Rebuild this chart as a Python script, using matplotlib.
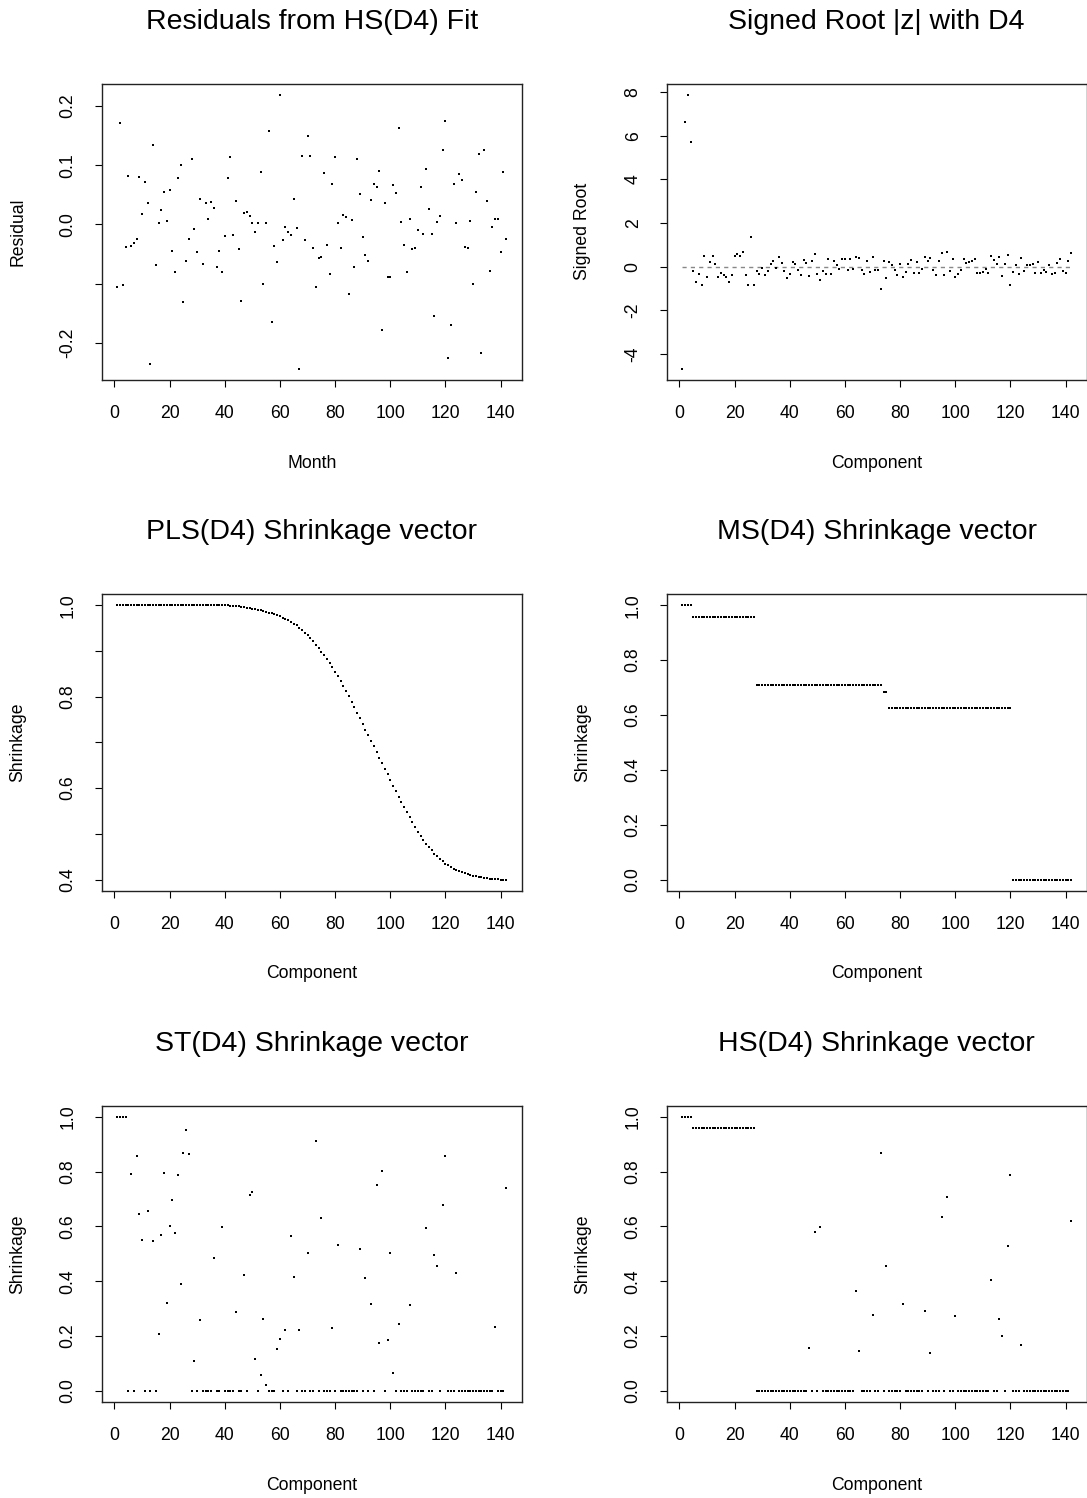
import numpy as np
import matplotlib
matplotlib.use("Agg")
import matplotlib.pyplot as plt

plt.rcParams['font.family'] = ['Liberation Sans', 'DejaVu Sans']

# x positions: months / components 1..142
idx = np.arange(1, 143)

residuals = [
    -0.106, 0.171, -0.102, -0.038, 0.082, -0.036, -0.032, -0.024, 0.080, 0.017,
    0.072, 0.037, -0.236, 0.134, -0.069, 0.002, 0.025, 0.054, 0.006, 0.058,
    -0.044, -0.080, 0.078, 0.101, -0.131, -0.061, -0.025, 0.111, -0.008, -0.047,
    0.043, -0.066, 0.036, 0.009, 0.038, 0.028, -0.071, -0.044, -0.080, -0.019,
    0.079, 0.113, -0.017, 0.039, -0.041, -0.129, 0.020, 0.021, 0.014, 0.002,
    -0.012, 0.002, 0.088, -0.100, 0.002, 0.157, -0.165, -0.036, -0.064, 0.219,
    -0.026, -0.004, -0.013, -0.017, 0.043, -0.006, -0.244, 0.115, -0.026, 0.149,
    0.116, -0.040, -0.106, -0.056, -0.055, 0.087, -0.034, -0.083, 0.069, 0.114,
    0.003, -0.039, 0.016, 0.013, -0.117, 0.007, -0.071, 0.110, 0.051, -0.022,
    -0.052, -0.061, 0.041, 0.069, 0.063, 0.091, -0.178, 0.037, -0.088, -0.088,
    0.067, 0.053, 0.163, 0.004, -0.035, -0.081, 0.010, -0.042, -0.039, -0.009,
    0.063, -0.016, 0.094, 0.026, -0.016, -0.155, 0.004, 0.015, 0.126, 0.174,
    -0.225, -0.169, 0.068, 0.002, 0.085, 0.075, -0.038, -0.039, 0.006, -0.100,
    0.054, 0.119, -0.217, 0.126, 0.039, -0.078, -0.005, 0.009, 0.010, -0.047,
    0.088, -0.024]

signed_root = [
    -4.69, 6.63, 7.88, 5.70, -0.20, -0.69, -0.34, -0.82, 0.50, -0.47,
    0.23, 0.50, 0.11, -0.47, -0.29, -0.37, -0.47, -0.69, -0.40, 0.47,
    0.56, 0.47, 0.67, -0.40, -0.85, 1.37, -0.85, -0.21, -0.35, -0.06,
    -0.37, -0.21, 0.14, 0.26, -0.08, 0.43, 0.15, -0.21, -0.52, -0.34,
    0.20, 0.11, -0.17, -0.40, 0.29, 0.18, -0.43, 0.26, 0.56, -0.35,
    -0.61, -0.18, -0.35, 0.35, -0.34, 0.27, 0.09, -0.11, 0.34, 0.34,
    -0.15, 0.34, -0.12, 0.46, 0.40, -0.15, -0.35, 0.24, -0.26, 0.44,
    -0.17, -0.14, -1.04, 0.26, -0.52, 0.20, 0.06, -0.17, -0.37, 0.11,
    -0.47, -0.26, 0.12, 0.29, -0.29, 0.21, -0.27, -0.12, 0.43, 0.27,
    0.38, -0.14, -0.40, 0.24, 0.63, -0.37, 0.69, -0.20, 0.34, -0.47,
    -0.35, -0.15, 0.34, 0.18, 0.23, 0.24, 0.37, -0.30, -0.27, -0.26,
    -0.12, -0.29, 0.47, 0.30, 0.11, 0.43, -0.44, 0.14, 0.53, -0.84,
    -0.26, 0.06, -0.34, 0.40, -0.20, 0.06, 0.08, 0.12, -0.27, 0.23,
    -0.30, -0.14, -0.26, 0.08, -0.32, -0.30, 0.17, 0.35, -0.21, -0.29,
    0.26, 0.61]

pls_shrink = [1.000] * 40 + [
    1.000, 0.999, 0.999, 0.998, 0.998, 0.997, 0.996, 0.995, 0.994, 0.992,
    0.991, 0.990, 0.989, 0.987, 0.986, 0.984, 0.983, 0.980, 0.978, 0.976,
    0.973, 0.970, 0.967, 0.964, 0.960, 0.956, 0.951, 0.946, 0.940, 0.934,
    0.928, 0.921, 0.914, 0.906, 0.898, 0.891, 0.882, 0.873, 0.865, 0.855,
    0.845, 0.835, 0.824, 0.812, 0.801, 0.789, 0.777, 0.765, 0.753, 0.741,
    0.728, 0.716, 0.704, 0.692, 0.679, 0.667, 0.654, 0.642, 0.630, 0.617,
    0.605, 0.593, 0.581, 0.569, 0.558, 0.547, 0.536, 0.525, 0.515, 0.505,
    0.496, 0.487, 0.479, 0.471, 0.464, 0.457, 0.451, 0.445, 0.440, 0.435,
    0.431, 0.427, 0.424, 0.421, 0.418, 0.416, 0.414, 0.412, 0.410, 0.409,
    0.407, 0.406, 0.405, 0.404, 0.403, 0.402, 0.402, 0.401, 0.401, 0.400,
    0.400, 0.400]

# MS shrinkage is piecewise constant: levels and run lengths
ms_levels = [1.0, 0.959, 0.710, 0.683, 0.625, 0.0]
ms_counts = [4, 23, 46, 2, 45, 22]

# ST / HS: nonzero entries only, everything else is 0
st_index = [1, 2, 3, 4, 6, 8, 9, 10, 12, 14, 16, 17, 18, 19, 20, 21, 22, 23, 24,
            25, 26, 27, 29, 31, 36, 39, 44, 47, 49, 50, 51, 53, 54, 55, 59, 60,
            62, 64, 65, 67, 70, 73, 75, 79, 81, 89, 91, 93, 95, 96, 97, 99, 100,
            101, 103, 107, 113, 116, 117, 119, 120, 124, 138, 142]
st_value = [0.997, 0.999, 0.999, 0.997, 0.790, 0.855, 0.646, 0.552, 0.655, 0.546,
            0.209, 0.569, 0.793, 0.321, 0.600, 0.695, 0.575, 0.787, 0.391, 0.866,
            0.953, 0.865, 0.109, 0.258, 0.485, 0.599, 0.288, 0.424, 0.714, 0.727,
            0.115, 0.060, 0.261, 0.022, 0.152, 0.188, 0.221, 0.566, 0.414, 0.224,
            0.504, 0.913, 0.631, 0.230, 0.533, 0.516, 0.412, 0.317, 0.752, 0.175,
            0.803, 0.185, 0.504, 0.064, 0.243, 0.313, 0.594, 0.496, 0.454, 0.678,
            0.857, 0.431, 0.234, 0.741]

hs_index = [1, 2, 3, 4] + list(range(5, 28)) + [47, 49, 51, 64, 65, 70, 73, 75, 81,
            89, 91, 95, 97, 100, 113, 116, 117, 119, 120, 124, 142]
hs_value = [1.0] * 4 + [0.959] * 23 + [0.158, 0.581, 0.598, 0.365, 0.145, 0.276,
            0.869, 0.457, 0.316, 0.292, 0.140, 0.635, 0.708, 0.273, 0.403, 0.261,
            0.200, 0.527, 0.786, 0.166, 0.620]

ms_shrink = np.repeat(ms_levels, ms_counts)
st_shrink = np.zeros(142)
st_shrink[np.array(st_index) - 1] = st_value
hs_shrink = np.zeros(142)
hs_shrink[np.array(hs_index) - 1] = hs_value

W, H = 1087, 1498
fig = plt.figure(figsize=(W / 100, H / 100), dpi=100)

cols = [101.7, 666.7]
rows = [83.7, 594.3, 1105.7]
pw, ph = 420, 296.3

FS = 12.7


def make_ax(r, c):
    ax = fig.add_axes([cols[c] / W, 1 - (rows[r] + ph) / H, pw / W, ph / H])
    for s in ax.spines.values():
        s.set_linewidth(1.0)
        s.set_color('#222222')
    ax.tick_params(direction='out', length=5, width=0.8, labelsize=FS, pad=13)
    ax.set_xlim(-4.64, 147.64)
    ax.set_xticks(range(0, 141, 20))
    return ax


def finish(ax, title, xlabel, ylabel, yticks, ylabels, ylim):
    ax.set_ylim(*ylim)
    ax.set_yticks(yticks)
    ax.set_yticklabels(ylabels, rotation=90, va='center')
    ax.text(0.5, 1 + 62 / ph, title, transform=ax.transAxes,
            ha='center', va='center', fontsize=20.5)
    ax.set_xlabel(xlabel, fontsize=FS)
    ax.xaxis.label.set_va('center')
    ax.xaxis.set_label_coords(0.5, -83 / ph)
    ax.set_ylabel(ylabel, fontsize=FS)
    ax.yaxis.label.set_va('center')
    ax.yaxis.set_label_coords(-84 / pw, 0.5)


def dots(ax, y):
    ax.plot(idx, y, 's', color='black', ms=2.0, mew=0)


ax = make_ax(0, 0)
dots(ax, residuals)
finish(ax, 'Residuals from HS(D4) Fit', 'Month', 'Residual',
       [-0.2, -0.1, 0.0, 0.1, 0.2], ['-0.2', '', '0.0', '0.1', '0.2'],
       (-0.2625, 0.2375))

ax = make_ax(0, 1)
ax.plot([1, 142], [0, 0], linestyle=(0, (3, 3)), color='#888888', lw=1)
dots(ax, signed_root)
finish(ax, 'Signed Root |z| with D4', 'Component', 'Signed Root',
       [-4, -2, 0, 2, 4, 6, 8], ['-4', '-2', '0', '2', '4', '6', '8'],
       (-5.19, 8.38))

ax = make_ax(1, 0)
dots(ax, pls_shrink)
finish(ax, 'PLS(D4) Shrinkage vector', 'Component', 'Shrinkage',
       [0.4, 0.5, 0.6, 0.7, 0.8, 0.9, 1.0], ['0.4', '', '0.6', '', '0.8', '', '1.0'],
       (0.376, 1.024))

shr_ticks = [0.0, 0.2, 0.4, 0.6, 0.8, 1.0]
shr_labels = ['0.0', '0.2', '0.4', '0.6', '0.8', '1.0']

ax = make_ax(1, 1)
dots(ax, ms_shrink)
finish(ax, 'MS(D4) Shrinkage vector', 'Component', 'Shrinkage',
       shr_ticks, shr_labels, (-0.04, 1.04))

ax = make_ax(2, 0)
dots(ax, st_shrink)
finish(ax, 'ST(D4) Shrinkage vector', 'Component', 'Shrinkage',
       shr_ticks, shr_labels, (-0.04, 1.04))

ax = make_ax(2, 1)
dots(ax, hs_shrink)
finish(ax, 'HS(D4) Shrinkage vector', 'Component', 'Shrinkage',
       shr_ticks, shr_labels, (-0.04, 1.04))

fig.savefig('out.png', dpi=100)
